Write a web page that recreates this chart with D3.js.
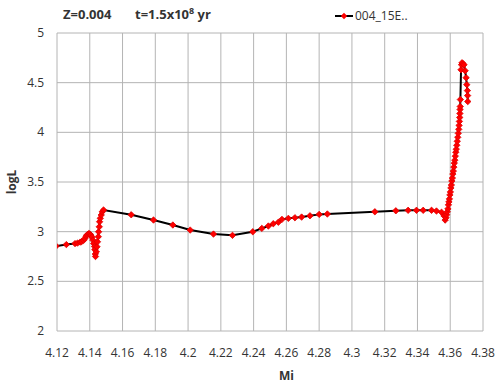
<!DOCTYPE html>
<html>
<head>
<script src="https://d3js.org/d3.v7.min.js"></script>
<style>
  body { margin: 0; background: #fff; }
  text { font-family: "Open Sans", "Noto Sans", sans-serif; fill: #333; }
</style>
</head>
<body>
<div id="chart"></div>
<script>
// values
const seriesName = "004_15E..";
const mass = [
  4.1195, 4.1257, 4.1310, 4.1325, 4.1342, 4.1350, 4.1362, 4.1370, 4.1377, 4.1385,
  4.1393, 4.1400, 4.1407, 4.1413, 4.1419, 4.1424, 4.1429, 4.1431, 4.1434, 4.1435,
  4.1440, 4.1444, 4.1447, 4.1452, 4.1454, 4.1458, 4.1460, 4.1464, 4.1470, 4.1476,
  4.1484, 4.1653, 4.1789, 4.1907, 4.2013, 4.2155, 4.2271, 4.2395, 4.2450, 4.2490,
  4.2520, 4.2551, 4.2573, 4.2612, 4.2652, 4.2693, 4.2744, 4.2800, 4.2850, 4.3140,
  4.3268, 4.3343, 4.3394, 4.3435, 4.3486, 4.3516, 4.3547, 4.3562, 4.3569, 4.3574,
  4.3578, 4.3582, 4.3586, 4.3589, 4.3592, 4.3595, 4.3598, 4.3601, 4.3604, 4.3607,
  4.3610, 4.3613, 4.3616, 4.3619, 4.3622, 4.3625, 4.3628, 4.3631, 4.3634, 4.3637,
  4.3640, 4.3643, 4.3646, 4.3649, 4.3652, 4.3654, 4.3656, 4.3658, 4.3659, 4.3660,
  4.3661, 4.3662, 4.3666, 4.3669, 4.3672, 4.3678, 4.3684, 4.3691, 4.3697, 4.3701,
  4.3705, 4.3706, 4.3707
];
const logL = [
  2.855, 2.870, 2.880, 2.885, 2.895, 2.900, 2.912, 2.930, 2.955, 2.970,
  2.980, 2.978, 2.965, 2.945, 2.915, 2.880, 2.850, 2.820, 2.775, 2.750,
  2.797, 2.848, 2.898, 2.949, 2.999, 3.049, 3.100, 3.134, 3.168, 3.200,
  3.218, 3.170, 3.117, 3.067, 3.016, 2.976, 2.963, 2.999, 3.033, 3.057,
  3.080, 3.095, 3.124, 3.134, 3.140, 3.147, 3.160, 3.174, 3.178, 3.200,
  3.210, 3.215, 3.215, 3.215, 3.215, 3.208, 3.195, 3.160, 3.117, 3.140,
  3.170, 3.200, 3.230, 3.270, 3.300, 3.330, 3.370, 3.400, 3.440, 3.470,
  3.510, 3.540, 3.580, 3.610, 3.650, 3.690, 3.720, 3.760, 3.800, 3.830,
  3.870, 3.910, 3.950, 3.990, 4.030, 4.070, 4.110, 4.150, 4.190, 4.230,
  4.260, 4.330, 4.630, 4.680, 4.700, 4.690, 4.680, 4.620, 4.550, 4.480,
  4.420, 4.370, 4.310
];
const xTicks = [4.12, 4.14, 4.16, 4.18, 4.2, 4.22, 4.24, 4.26, 4.28, 4.3, 4.32, 4.34, 4.36, 4.38];
const yTicks = [2, 2.5, 3, 3.5, 4, 4.5, 5];

const data = mass.map((m, i) => ({m: m, L: logL[i]}));

const width = 500, height = 386;
const margin = {top: 33, right: 17, bottom: 55, left: 57};

const svg = d3.select("#chart").append("svg")
  .attr("width", width).attr("height", height);

const x = d3.scaleLinear([4.12, 4.38], [margin.left, width - margin.right]);
const y = d3.scaleLinear([2, 5], [height - margin.bottom, margin.top]);

// grid
svg.append("g")
  .selectAll("line")
  .data(xTicks)
  .join("line")
  .attr("x1", d => x(d)).attr("x2", d => x(d))
  .attr("y1", y(5)).attr("y2", y(2))
  .attr("stroke", "#b4b4b4");

svg.append("g")
  .selectAll("line")
  .data(yTicks)
  .join("line")
  .attr("x1", x(4.12)).attr("x2", x(4.38))
  .attr("y1", d => y(d)).attr("y2", d => y(d))
  .attr("stroke", "#b4b4b4");

// tick labels
svg.append("g")
  .selectAll("text")
  .data(xTicks)
  .join("text")
  .attr("x", d => x(d)).attr("y", 357)
  .attr("text-anchor", "middle")
  .attr("font-size", 12)
  .text(d => d);

svg.append("g")
  .selectAll("text")
  .data(yTicks)
  .join("text")
  .attr("x", 44).attr("y", d => y(d) + 4)
  .attr("text-anchor", "end")
  .attr("font-size", 12)
  .text(d => d);

// axis titles
svg.append("text")
  .attr("x", x(4.26)).attr("y", 380)
  .attr("text-anchor", "middle")
  .attr("font-size", 12).attr("font-weight", "bold")
  .text("Mi");

svg.append("text")
  .attr("transform", `translate(16,${y(3.5)}) rotate(-90)`)
  .attr("text-anchor", "middle")
  .attr("font-size", 12).attr("font-weight", "bold")
  .text("logL");

// title
const title = svg.append("text")
  .attr("x", 63).attr("y", 19)
  .attr("font-size", 13).attr("font-weight", "bold");
title.append("tspan").text("Z=0.004");
title.append("tspan").attr("x", 135).text("t=1.5x10");
title.append("tspan").attr("dy", -5).attr("font-size", 9).text("8");
title.append("tspan").attr("dy", 5).text(" yr");

// series
svg.append("clipPath").attr("id", "plot")
  .append("rect")
  .attr("x", margin.left).attr("y", margin.top)
  .attr("width", width - margin.left - margin.right)
  .attr("height", height - margin.top - margin.bottom);

const plot = svg.append("g").attr("clip-path", "url(#plot)");

const line = d3.line().x(d => x(d.m)).y(d => y(d.L));
plot.append("path")
  .datum(data)
  .attr("fill", "none")
  .attr("stroke", "#000")
  .attr("stroke-width", 2)
  .attr("d", line);

const diamond = d3.symbol().type(d3.symbolDiamond2).size(26);
plot.append("g")
  .selectAll("path")
  .data(data)
  .join("path")
  .attr("transform", d => `translate(${x(d.m)},${y(d.L)})`)
  .attr("d", diamond)
  .attr("fill", "#ff0000")
  .attr("stroke", "#e00000")
  .attr("stroke-width", 0.8);

// legend
const lg = svg.append("g").attr("transform", "translate(335,16)");
lg.append("line").attr("x1", 0).attr("x2", 18).attr("stroke", "#000").attr("stroke-width", 2);
lg.append("path").attr("transform", "translate(9,0)").attr("d", diamond).attr("fill", "#ff0000");
lg.append("text").attr("x", 20).attr("y", 4).attr("font-size", 12).text(seriesName);
</script>
</body>
</html>
